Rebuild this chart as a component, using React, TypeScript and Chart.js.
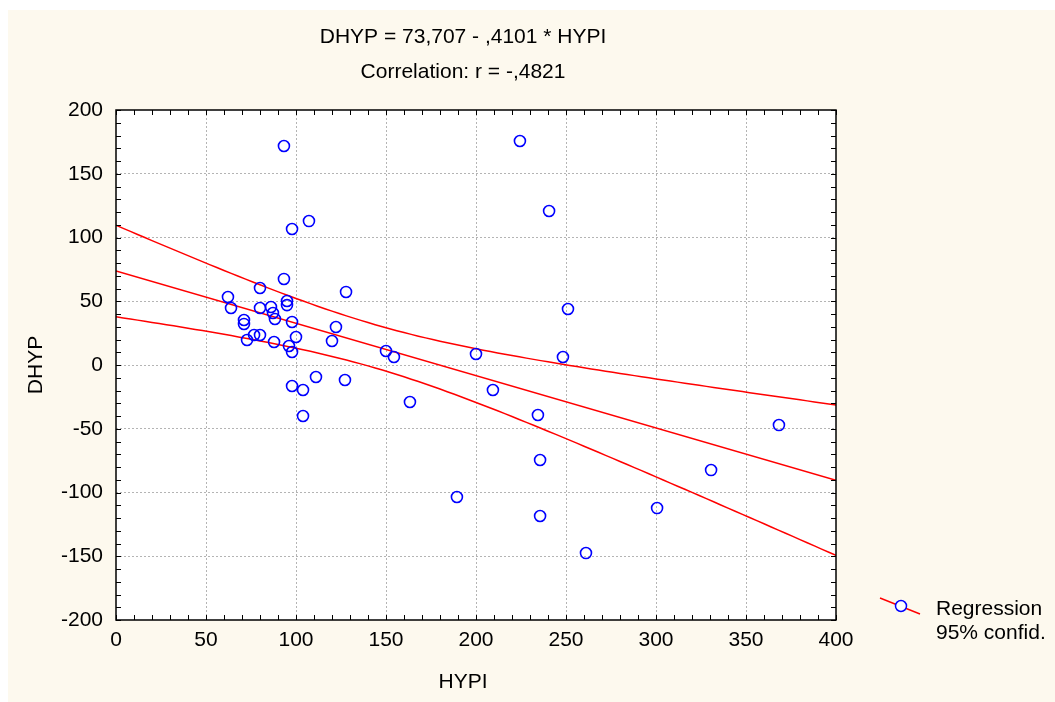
import React, { useEffect, useRef } from "react";
import { Chart, registerables } from "chart.js";

Chart.register(...registerables);

// HYPI values (x)
const hypi: number[] = [
  93.3, 224.4, 240.6, 107.2, 97.8, 93.3, 80.0, 127.8, 62.2, 95.0,
  95.0, 63.9, 80.0, 86.1, 87.2, 88.3, 71.1, 71.1, 97.8, 251.1,
  122.2, 76.7, 80.0, 100.0, 72.8, 87.8, 120.0, 96.1, 97.8, 150.0,
  154.4, 200.0, 248.3, 111.1, 127.2, 97.8, 103.9, 209.4, 163.3, 103.9,
  234.4, 368.3, 235.6, 330.6, 189.4, 300.6, 235.6, 261.1,
];
// DHYP values (y)
const dhyp: number[] = [
  171.8, 175.7, 120.8, 112.9, 106.7, 67.5, 60.4, 57.3, 53.3, 50.2,
  47.0, 44.7, 44.7, 45.5, 40.8, 36.1, 35.3, 32.2, 33.7, 43.9,
  29.8, 23.5, 23.5, 22.0, 19.6, 18.0, 18.8, 14.9, 10.2, 11.0,
  6.3, 8.6, 6.3, -9.4, -11.8, -16.5, -19.6, -19.6, -29.0, -40.0,
  -39.2, -47.1, -74.5, -82.4, -103.5, -112.2, -118.4, -147.5,
];

const intercept = 73.707;
const slope = -0.4101;
const tCrit = 2.013;

const xTicks: number[] = [0, 50, 100, 150, 200, 250, 300, 350, 400];
const yTicks: number[] = [-200, -150, -100, -50, 0, 50, 100, 150, 200];

const titleLines: string[] = ["DHYP = 73,707 - ,4101 * HYPI", "Correlation: r = -,4821"];
const xTitle = "HYPI";
const yTitle = "DHYP";
const legendLines: string[] = ["Regression", "95% confid."];

const FONT = "'Liberation Sans', Arial, Helvetica, sans-serif";
const FSIZE = 21;

function bandData() {
  const n = hypi.length;
  const mx = hypi.reduce((a, b) => a + b, 0) / n;
  const sxx = hypi.reduce((a, b) => a + (b - mx) * (b - mx), 0);
  const sse = hypi.reduce((a, x, i) => {
    const r = dhyp[i] - (intercept + slope * x);
    return a + r * r;
  }, 0);
  const s = Math.sqrt(sse / (n - 2));
  const upper: { x: number; y: number }[] = [];
  const lower: { x: number; y: number }[] = [];
  for (let x = xTicks[0]; x <= xTicks[xTicks.length - 1]; x += 4) {
    const yh = intercept + slope * x;
    const hw = tCrit * s * Math.sqrt(1 / n + ((x - mx) * (x - mx)) / sxx);
    upper.push({ x, y: yh + hw });
    lower.push({ x, y: yh - hw });
  }
  return { upper, lower };
}

const decorPlugin = {
  id: "decor",
  beforeDraw(chart: any) {
    const { ctx, chartArea } = chart;
    ctx.save();
    ctx.fillStyle = "#ffffff";
    ctx.fillRect(0, 0, chart.width, chart.height);
    ctx.fillStyle = "#fdf9ee";
    ctx.fillRect(8, 10, chart.width - 8, chart.height - 10);
    ctx.fillStyle = "#ffffff";
    ctx.fillRect(chartArea.left, chartArea.top, chartArea.right - chartArea.left, chartArea.bottom - chartArea.top);
    ctx.restore();
  },
  afterDraw(chart: any) {
    const { ctx, chartArea } = chart;
    const xs = chart.scales.x;
    const ys = chart.scales.y;
    const { left, right, top, bottom } = chartArea;
    ctx.save();
    // minor ticks
    ctx.strokeStyle = "#000000";
    ctx.lineWidth = 1;
    ctx.beginPath();
    for (let v = xs.min; v <= xs.max; v += 10) {
      const px = Math.round(xs.getPixelForValue(v)) + 0.5;
      ctx.moveTo(px, bottom);
      ctx.lineTo(px, bottom - 5);
      ctx.moveTo(px, top);
      ctx.lineTo(px, top + 5);
    }
    for (let v = ys.min; v <= ys.max; v += 10) {
      const py = Math.round(ys.getPixelForValue(v)) + 0.5;
      ctx.moveTo(left, py);
      ctx.lineTo(left + 5, py);
      ctx.moveTo(right, py);
      ctx.lineTo(right - 5, py);
    }
    ctx.stroke();
    // frame
    ctx.lineWidth = 1.5;
    ctx.strokeRect(left, top, right - left, bottom - top);

    // titles
    const cx = left + (right - left) * 0.482;
    ctx.fillStyle = "#000000";
    ctx.font = `${FSIZE}px ${FONT}`;
    ctx.textAlign = "center";
    ctx.textBaseline = "middle";
    ctx.fillText(titleLines[0], cx, top - 73);
    ctx.fillText(titleLines[1], cx, top - 38);
    ctx.fillText(xTitle, cx, bottom + 62);
    ctx.save();
    ctx.translate(left - 80, (top + bottom) / 2);
    ctx.rotate(-Math.PI / 2);
    ctx.fillText(yTitle, 0, 0);
    ctx.restore();

    // legend
    const lx = right + 44;
    const ly = bottom - 13;
    ctx.strokeStyle = "#ff0000";
    ctx.lineWidth = 1.5;
    ctx.beginPath();
    ctx.moveTo(lx, ly - 9);
    ctx.lineTo(lx + 40, ly + 7);
    ctx.stroke();
    ctx.fillStyle = "#ffffff";
    ctx.strokeStyle = "#0000ff";
    ctx.beginPath();
    ctx.arc(lx + 21, ly - 1, 5.5, 0, Math.PI * 2);
    ctx.fill();
    ctx.stroke();
    ctx.fillStyle = "#000000";
    ctx.textAlign = "left";
    ctx.fillText(legendLines[0], lx + 56, ly + 2);
    ctx.fillText(legendLines[1], lx + 56, ly + 26);
    ctx.restore();
  },
};

export default function App() {
  const ref = useRef<HTMLCanvasElement | null>(null);
  useEffect(() => {
    if (!ref.current) return;
    const { upper, lower } = bandData();
    const xMin = xTicks[0];
    const xMax = xTicks[xTicks.length - 1];
    const chart = new Chart(ref.current, {
      type: "scatter",
      data: {
        datasets: [
          {
            label: "DHYP",
            data: hypi.map((x, i) => ({ x, y: dhyp[i] })),
            borderColor: "#0000ff",
            backgroundColor: "rgba(0,0,0,0)",
            pointRadius: 5.5,
            pointBorderWidth: 1.6,
            showLine: false,
            order: 0,
          },
          {
            label: "Regression",
            data: [
              { x: xMin, y: intercept + slope * xMin },
              { x: xMax, y: intercept + slope * xMax },
            ],
            borderColor: "#ff0000",
            borderWidth: 1.5,
            pointRadius: 0,
            showLine: true,
            order: 1,
          },
          {
            label: "Upper",
            data: upper,
            borderColor: "#ff0000",
            borderWidth: 1.5,
            pointRadius: 0,
            showLine: true,
            tension: 0,
            order: 1,
          },
          {
            label: "Lower",
            data: lower,
            borderColor: "#ff0000",
            borderWidth: 1.5,
            pointRadius: 0,
            showLine: true,
            tension: 0,
            order: 1,
          },
        ],
      },
      options: {
        animation: false,
        responsive: false,
        devicePixelRatio: 1,
        layout: { padding: { top: 110, right: 219, left: 0, bottom: 0 } },
        plugins: {
          legend: { display: false },
          tooltip: { enabled: false },
          title: { display: false },
        },
        scales: {
          x: {
            type: "linear",
            min: xMin,
            max: xMax,
            afterFit: (s: any) => {
              s.height = 82;
            },
            afterBuildTicks: (s: any) => {
              s.ticks = xTicks.map((v) => ({ value: v }));
            },
            ticks: {
              color: "#000000",
              font: { family: FONT, size: FSIZE },
              padding: 8,
              maxRotation: 0,
              autoSkip: false,
            },
            grid: {
              drawTicks: false,
              color: (c: any) => (c.tick && (c.tick.value === xMin || c.tick.value === xMax) ? "rgba(0,0,0,0)" : "#b4b4b4"),
              lineWidth: 1,
            },
            border: { display: false, dash: [2, 2] },
          },
          y: {
            type: "linear",
            min: yTicks[0],
            max: yTicks[yTicks.length - 1],
            afterFit: (s: any) => {
              s.width = 116;
            },
            afterBuildTicks: (s: any) => {
              s.ticks = yTicks.map((v) => ({ value: v }));
            },
            ticks: {
              color: "#000000",
              font: { family: FONT, size: FSIZE },
              padding: 13,
              autoSkip: false,
            },
            grid: {
              drawTicks: false,
              color: (c: any) =>
                c.tick && (c.tick.value === yTicks[0] || c.tick.value === yTicks[yTicks.length - 1]) ? "rgba(0,0,0,0)" : "#b4b4b4",
              lineWidth: 1,
            },
            border: { display: false, dash: [2, 2] },
          },
        },
      } as any,
      plugins: [decorPlugin],
    });
    return () => chart.destroy();
  }, []);
  return (
    <div style={{ position: "absolute", left: 0, top: 0, width: 1055, height: 702 }}>
      <canvas ref={ref} width={1055} height={702} style={{ width: 1055, height: 702, display: "block" }} />
    </div>
  );
}
